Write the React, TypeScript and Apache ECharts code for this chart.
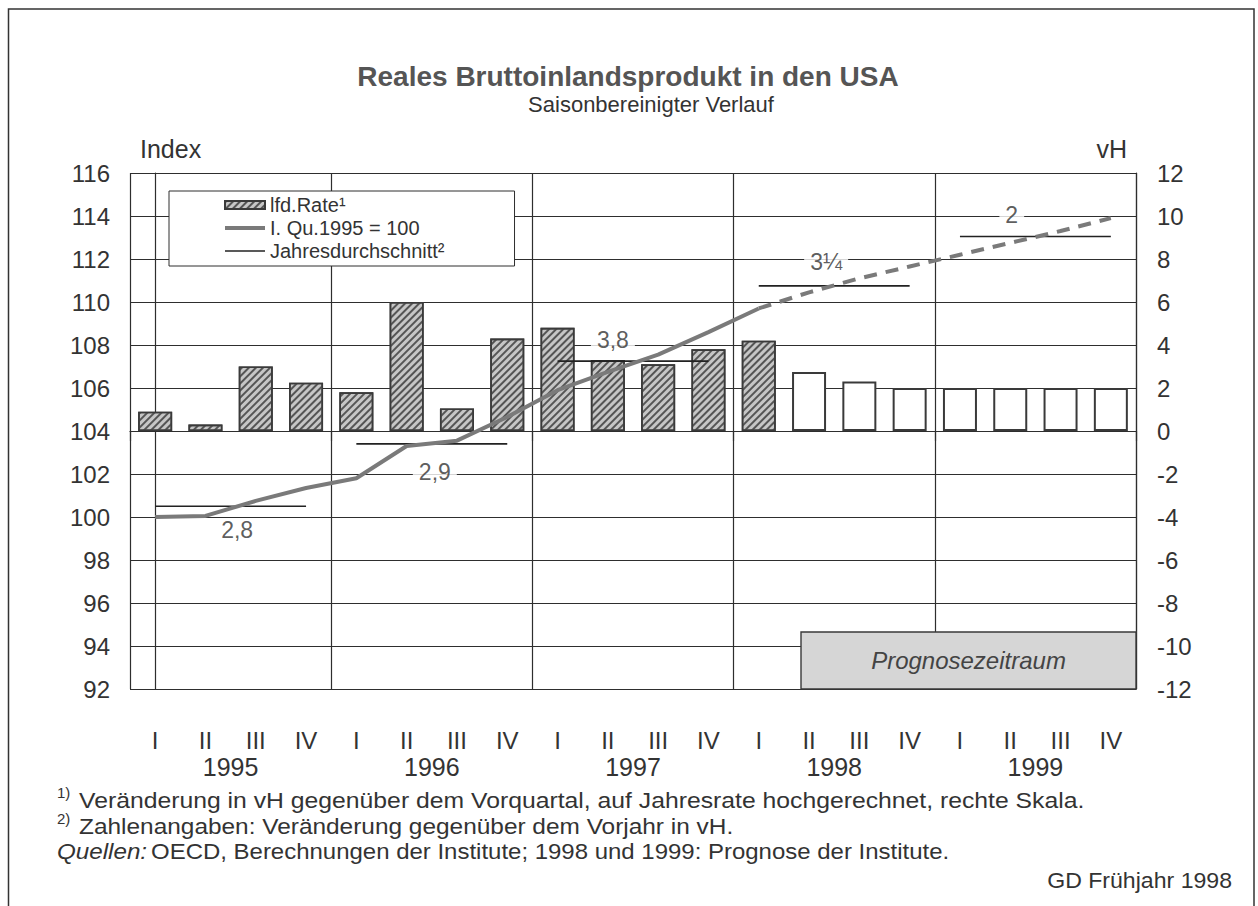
import React, { useEffect, useRef } from "react";
import * as echarts from "echarts";

const FONT = "'Liberation Sans', Arial, Helvetica, sans-serif";

const quarters = ["I", "II", "III", "IV"];
const years = ["1995", "1996", "1997", "1998", "1999"];

// Laufende Rate (vH, annualisiert) – rechte Skala
const rateActual = [0.9, 0.3, 3.0, 2.25, 1.8, 6.0, 1.05, 4.3, 4.8, 3.3, 3.1, 3.8, 4.2];
const rateForecast = [2.75, 2.3, 2.0, 2.0, 2.0, 2.0, 2.0];

// Index I. Qu. 1995 = 100 – linke Skala
const indexActual = [100.0, 100.05, 100.75, 101.35, 101.8, 103.3, 103.55, 104.65, 105.9, 106.75, 107.55, 108.6, 109.7];
const indexForecast = [110.45, 111.1, 111.65, 112.2, 112.75, 113.3, 113.9];

// Jahresdurchschnitt (Indexniveau) und Veränderung gegenüber Vorjahr
const yearAvgIndex = [100.5, 103.4, 107.25, 110.75, 113.05];
const yearAvgLabels = ["2,8", "2,9", "3,8", "3¼", "2"];
const yearLabelX = [1.63, 5.56, 9.1, 13.34, 17.03];
const yearLabelY = [99.4, 102.1, 108.25, 111.86, 114.05];

const leftTicks = { min: 92, max: 116, interval: 2 };
const rightTicks = { min: -12, max: 12, interval: 2 };

const prognoseBox = { x0: 12.84, x1: 19.5, y0: 92, y1: 94.65 };

const footnotes = [
  "Veränderung in vH gegenüber dem Vorquartal, auf Jahresrate hochgerechnet, rechte Skala.",
  "Zahlenangaben: Veränderung gegenüber dem Vorjahr in vH.",
];
const sourceLabel = "Quellen:";
const sourceText = "OECD, Berechnungen der Institute; 1998 und 1999: Prognose der Institute.";

const TEXT = "#333";
const LINE = "#2e2e2e";
const INDEX_COLOR = "#7a7a7a";
const AVG_COLOR = "#222";

export default function App() {
  const ref = useRef<HTMLDivElement>(null);

  useEffect(() => {
    if (!ref.current) return;
    const chart = echarts.init(ref.current, undefined, { renderer: "svg" });

    const categories = years.flatMap((y) => quarters.map((q) => `${q} ${y}`));
    const nA = rateActual.length;

    const hatch = {
      symbol: "rect",
      symbolSize: 1,
      dashArrayX: [[1, 0]],
      dashArrayY: [1.1, 2.1],
      rotation: -Math.PI / 4,
      color: "#555",
    };

    const barData = [
      ...rateActual.map((v) => ({ value: v })),
      ...rateForecast.map((v) => ({
        value: v,
        itemStyle: { color: "#ffffff", decal: "none", borderWidth: 2 },
      })),
    ];

    const solidData = [...indexActual, ...indexForecast.map(() => null)];
    const dashedData = [
      ...indexActual.map((v, i) => (i === nA - 1 ? v : null)),
      ...indexForecast,
    ];

    const avgData: any[] = [];
    yearAvgIndex.forEach((v, k) => {
      avgData.push([4 * k, v]);
      avgData.push([4 * k + 3, v]);
      avgData.push([4 * k + 3.5, "-"]);
    });

    const labelData = yearAvgLabels.map((t, k) => [yearLabelX[k], yearLabelY[k], t]);

    const footStyle = (text: string, extra: any = {}) => ({
      text,
      fontSize: 22,
      fontFamily: FONT,
      fill: TEXT,
      align: "left",
      verticalAlign: "middle",
      ...extra,
    });

    const option: any = {
      animation: false,
      textStyle: { fontFamily: FONT },
      grid: { left: 130, top: 173, width: 1006, height: 516, containLabel: false },
      legend: {
        data: [
          { name: "lfd.Rate¹", icon: "rect" },
          {
            name: "I. Qu.1995 = 100",
            itemStyle: { opacity: 0 },
            lineStyle: { width: 4, color: INDEX_COLOR, type: "solid" },
          },
          {
            name: "Jahresdurchschnitt²",
            itemStyle: { opacity: 0 },
            lineStyle: { width: 1.6, color: AVG_COLOR, type: "solid" },
          },
        ],
        orient: "vertical",
        left: 169,
        top: 191,
        padding: [4, 70, 5, 54],
        itemGap: 3,
        itemWidth: 40,
        itemHeight: 8,
        borderColor: LINE,
        borderWidth: 1,
        backgroundColor: "#fff",
        selectedMode: false,
        textStyle: { fontSize: 20, color: TEXT, fontFamily: FONT },
      },
      xAxis: [
        {
          type: "category",
          data: categories,
          position: "bottom",
          boundaryGap: true,
          axisLine: { show: true, lineStyle: { color: LINE, width: 1.2 } },
          axisTick: {
            show: true,
            interval: (i: number) => i % 4 === 0,
            length: 10,
            lineStyle: { color: LINE, width: 1.2 },
          },
          axisLabel: {
            interval: 0,
            formatter: (v: string) => v.split(" ")[0],
            fontSize: 24,
            color: TEXT,
            margin: 39,
            fontFamily: FONT,
          },
          splitLine: {
            show: true,
            interval: (i: number) => i % 4 === 0,
            lineStyle: { color: LINE, width: 1.2 },
          },
        },
        { type: "value", min: -0.5, max: 19.5, show: false, position: "top" },
        {
          type: "category",
          data: years,
          position: "bottom",
          offset: 57,
          axisLine: { show: false },
          axisTick: { show: false },
          splitLine: { show: false },
          axisLabel: { fontSize: 25, color: TEXT, margin: 8, fontFamily: FONT },
        },
      ],
      yAxis: [
        {
          type: "value",
          ...leftTicks,
          position: "left",
          axisLine: { show: true, lineStyle: { color: LINE, width: 1.2 } },
          axisTick: { show: false },
          axisLabel: { fontSize: 24, color: TEXT, margin: 20, fontFamily: FONT },
          splitLine: { show: true, lineStyle: { color: LINE, width: 1.2 } },
        },
        {
          type: "value",
          ...rightTicks,
          position: "right",
          axisLine: { show: true, lineStyle: { color: LINE, width: 1.2 } },
          axisTick: { show: false },
          axisLabel: { fontSize: 24, color: TEXT, margin: 21, fontFamily: FONT },
          splitLine: { show: false },
        },
      ],
      series: [
        {
          name: "lfd.Rate¹",
          type: "bar",
          xAxisIndex: 0,
          yAxisIndex: 1,
          barWidth: 34,
          data: barData,
          itemStyle: {
            color: "#c6c6c6",
            borderColor: "#3a3a3a",
            borderWidth: 1.6,
            decal: hatch,
          },
          z: 2,
        },
        {
          name: "I. Qu.1995 = 100",
          type: "line",
          xAxisIndex: 0,
          yAxisIndex: 0,
          data: solidData,
          symbol: "none",
          lineStyle: { color: INDEX_COLOR, width: 4 },
          itemStyle: { color: INDEX_COLOR },
          z: 4,
        },
        {
          name: "I. Qu.1995 = 100 (Prognose)",
          type: "line",
          xAxisIndex: 0,
          yAxisIndex: 0,
          data: dashedData,
          symbol: "none",
          lineStyle: { color: INDEX_COLOR, width: 4, type: [13, 9] },
          z: 4,
        },
        {
          name: "Jahresdurchschnitt²",
          type: "line",
          xAxisIndex: 1,
          yAxisIndex: 0,
          data: avgData,
          symbol: "none",
          lineStyle: { color: AVG_COLOR, width: 1.6 },
          itemStyle: { color: AVG_COLOR },
          z: 3,
        },
        {
          name: "labels",
          type: "scatter",
          xAxisIndex: 1,
          yAxisIndex: 0,
          data: labelData,
          symbolSize: 1,
          itemStyle: { color: "rgba(0,0,0,0)" },
          label: {
            show: true,
            position: "inside",
            formatter: (p: any) => p.value[2],
            fontSize: 23,
            color: TEXT,
            backgroundColor: "#fff",
            padding: [0, 6],
            fontFamily: FONT,
          },
          z: 5,
          markArea: {
            silent: true,
            itemStyle: {
              color: "#d6d6d6",
              borderColor: "#3a3a3a",
              borderWidth: 1.4,
            },
            label: {
              show: true,
              position: "inside",
              fontSize: 24,
              fontStyle: "italic",
              color: "#444",
              fontFamily: FONT,
            },
            data: [
              [
                { name: "Prognosezeitraum", xAxis: prognoseBox.x0, yAxis: prognoseBox.y1 },
                { xAxis: prognoseBox.x1, yAxis: prognoseBox.y0 },
              ],
            ],
          },
        },
      ],
      graphic: [
        {
          type: "rect",
          silent: true,
          shape: { x: 8.5, y: 9, width: 1245.5, height: 1000 },
          style: { fill: "none", stroke: "#333", lineWidth: 1.5 },
        },
        {
          type: "text",
          x: 628,
          y: 76,
          style: {
            text: "Reales Bruttoinlandsprodukt in den USA",
            fontSize: 28,
            fontWeight: "bold",
            fontFamily: FONT,
            fill: "#555",
            align: "center",
            verticalAlign: "middle",
          },
        },
        {
          type: "text",
          x: 651,
          y: 104.5,
          style: {
            text: "Saisonbereinigter Verlauf",
            fontSize: 22,
            fontFamily: FONT,
            fill: TEXT,
            align: "center",
            verticalAlign: "middle",
          },
        },
        {
          type: "text",
          x: 140,
          y: 149,
          style: { text: "Index", fontSize: 25, fontFamily: FONT, fill: TEXT, align: "left", verticalAlign: "middle" },
        },
        {
          type: "text",
          x: 1127,
          y: 149,
          style: { text: "vH", fontSize: 25, fontFamily: FONT, fill: TEXT, align: "right", verticalAlign: "middle" },
        },
        { type: "text", x: 57, y: 792, style: footStyle("1)", { fontSize: 15 }) },
        { type: "text", x: 79, y: 800, scaleX: 1.125, style: footStyle(footnotes[0]) },
        { type: "text", x: 57, y: 818, style: footStyle("2)", { fontSize: 15 }) },
        { type: "text", x: 79, y: 826, scaleX: 1.11, style: footStyle(footnotes[1]) },
        { type: "text", x: 57, y: 851, scaleX: 1.1, style: footStyle(sourceLabel, { fontStyle: "italic" }) },
        { type: "text", x: 151, y: 851, scaleX: 1.09, style: footStyle(sourceText) },
        {
          type: "text",
          x: 1232,
          y: 881,
          scaleX: 1.05,
          style: footStyle("GD Frühjahr 1998", { align: "right" }),
        },
      ],
    };

    chart.setOption(option);
    return () => chart.dispose();
  }, []);

  return (
    <div
      ref={ref}
      style={{ position: "absolute", left: 0, top: 0, width: 1258, height: 906, background: "#fff" }}
    />
  );
}
